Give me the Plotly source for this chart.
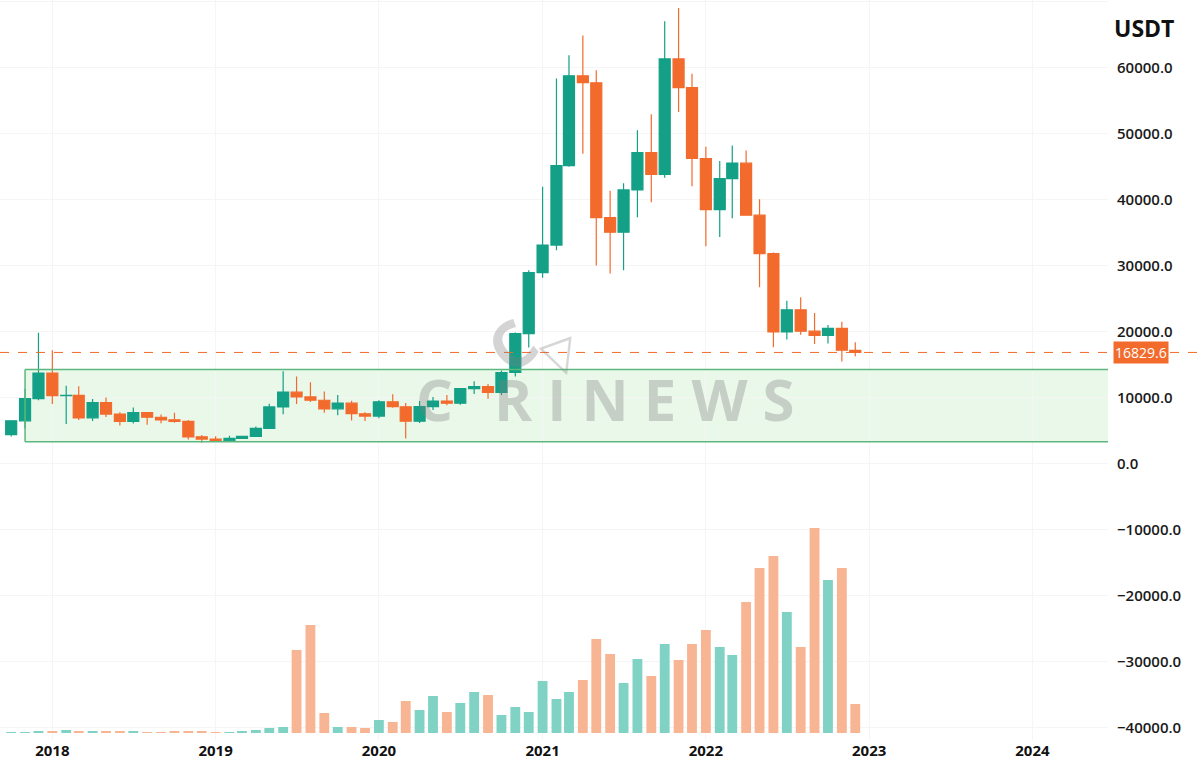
import plotly.graph_objects as go

# monthly BTC/USDT candles, Oct 2017 - Dec 2022
months = [
    "2017-10", "2017-11", "2017-12",
    "2018-01", "2018-02", "2018-03", "2018-04", "2018-05", "2018-06",
    "2018-07", "2018-08", "2018-09", "2018-10", "2018-11", "2018-12",
    "2019-01", "2019-02", "2019-03", "2019-04", "2019-05", "2019-06",
    "2019-07", "2019-08", "2019-09", "2019-10", "2019-11", "2019-12",
    "2020-01", "2020-02", "2020-03", "2020-04", "2020-05", "2020-06",
    "2020-07", "2020-08", "2020-09", "2020-10", "2020-11", "2020-12",
    "2021-01", "2021-02", "2021-03", "2021-04", "2021-05", "2021-06",
    "2021-07", "2021-08", "2021-09", "2021-10", "2021-11", "2021-12",
    "2022-01", "2022-02", "2022-03", "2022-04", "2022-05", "2022-06",
    "2022-07", "2022-08", "2022-09", "2022-10", "2022-11", "2022-12",
]
opens = [
    4378, 6463, 9838,
    13716, 10285, 10326, 6923, 9246, 7494, 6391, 7730, 7011, 6626, 6371, 4041,
    3702, 3434, 3814, 4103, 5320, 8574, 10817, 10085, 9588, 8289, 9140, 7541,
    7195, 9352, 8600, 6410, 8620, 9448, 9138, 11335, 11650, 10776, 13791, 19695,
    28923, 33092, 45135, 58741, 57694, 37254, 35045, 41461, 47100, 43824, 61300, 56950,
    46216, 38466, 43160, 45510, 37630, 31801, 19942, 23293, 20050, 19423, 20490, 17164,
]
highs = [
    6470, 11300, 19798,
    17176, 11786, 11710, 9759, 10020, 7771, 8506, 7760, 7410, 7680, 6600, 4312,
    4143, 4210, 4140, 5600, 9075, 13970, 13200, 12325, 10905, 10370, 9513, 7750,
    9578, 10500, 9188, 9468, 10067, 10380, 11444, 12468, 12050, 14100, 19863, 29300,
    41950, 58352, 61844, 64854, 59600, 41330, 42448, 50500, 52920, 67000, 69000, 59053,
    47990, 45821, 48189, 47444, 40023, 31982, 24668, 25211, 22799, 20988, 21480, 18387,
]
lows = [
    4110, 5325, 9600,
    9035, 6000, 6600, 6425, 7032, 5750, 6070, 5880, 6100, 6180, 3652, 3156,
    3350, 3373, 3785, 4030, 5300, 7460, 9010, 9320, 7710, 7300, 6515, 6435,
    6871, 8450, 3782, 6150, 8106, 8833, 8893, 10518, 9825, 10374, 13195, 17572,
    28130, 32296, 44950, 46930, 30000, 28805, 29278, 37332, 39600, 43283, 53256, 42000,
    32917, 34322, 37155, 37578, 26700, 17622, 18781, 19520, 18125, 18190, 15476, 16256,
]
closes = [
    6463, 9838, 13716,
    10285, 10326, 6923, 9246, 7494, 6391, 7730, 7011, 6626, 6371, 4041, 3702,
    3434, 3814, 4103, 5320, 8574, 10817, 10085, 9588, 8289, 9140, 7541, 7195,
    9352, 8600, 6410, 8620, 9448, 9138, 11335, 11650, 10776, 13791, 19695, 28923,
    33092, 45135, 58741, 57694, 37254, 35045, 41461, 47100, 43824, 61300, 56950, 46216,
    38466, 43160, 45510, 37630, 31801, 19942, 23293, 20050, 19423, 20490, 17164, 16829.6,
]
# volume, arbitrary units
volumes = [
    1, 1, 1.5,
    2, 3, 2, 2, 2, 1.5, 1.5, 1, 1, 1.5, 2, 1.5,
    1, 1, 1.5, 3, 5, 6, 83, 108, 20, 6, 6, 5,
    13, 11, 32, 23, 37, 21, 30, 41, 38, 18, 26, 21,
    52, 34, 41, 53, 94, 79, 50, 74, 57, 89, 73, 89,
    103, 86, 78, 131, 165, 177, 121, 86, 205, 153, 165, 29,
]
last_price = 16829.6
band_low, band_high = 3300, 14250
x_start, x_end = "2017-09-06", "2024-06-18"

UP = "#13a086"
DOWN = "#f26b2c"
UP_VOL = "#7fd2c4"
DOWN_VOL = "#f8b593"
WM = "rgba(125,125,125,0.33)"

dates = [m + "-01" for m in months]
vol_colors = [UP_VOL if c >= o else DOWN_VOL for o, c in zip(opens, closes)]

fig = go.Figure()

fig.add_trace(go.Bar(
    x=dates, y=volumes, yaxis="y2",
    marker=dict(color=vol_colors, line=dict(width=0)),
    width=22 * 86400000, hoverinfo="skip", showlegend=False,
))

fig.add_trace(go.Candlestick(
    x=dates, open=opens, high=highs, low=lows, close=closes,
    increasing=dict(line=dict(color=UP, width=1.2), fillcolor=UP),
    decreasing=dict(line=dict(color=DOWN, width=1.2), fillcolor=DOWN),
    whiskerwidth=0, showlegend=False,
))

# consolidation band
fig.add_shape(type="rect", xref="x", yref="y", x0="2017-11-01", x1=x_end,
              y0=band_low, y1=band_high, fillcolor="rgba(205,238,205,0.42)",
              line=dict(width=0), layer="below")
for yv in (band_low, band_high):
    fig.add_shape(type="line", xref="x", yref="y", x0="2017-11-01", x1=x_end,
                  y0=yv, y1=yv, line=dict(color="#5cb87c", width=1.5))
fig.add_shape(type="line", xref="x", yref="y", x0="2017-11-01", x1="2017-11-01",
              y0=band_low, y1=band_high, line=dict(color="#5cb87c", width=1.5))

# last price line
fig.add_shape(type="line", xref="paper", yref="y", x0=0, x1=1.09,
              y0=last_price, y1=last_price,
              line=dict(color=DOWN, width=1, dash="dash"))

fig.add_annotation(xref="paper", yref="y", x=1, y=last_price, xanchor="left",
                   yanchor="middle", xshift=5, text=f"{last_price:.1f}", showarrow=False,
                   font=dict(family="Open Sans", size=14, color="white"),
                   bgcolor=DOWN, borderpad=1)

fig.add_annotation(xref="paper", yref="paper", x=1, y=0.962, xanchor="left",
                   yanchor="middle", xshift=4, text="<b>USDT</b>", showarrow=False,
                   font=dict(family="Open Sans", size=23, color="#111"))

# watermark
fig.add_annotation(xref="paper", yref="y", x=0.581, y=9800, text="R I N E W S",
                   showarrow=False, yanchor="middle",
                   font=dict(family="Open Sans", size=58, weight=700, color=WM))
fig.add_annotation(xref="paper", yref="y", x=0.392, y=9800, text="C",
                   showarrow=False, yanchor="middle",
                   font=dict(family="Open Sans", size=58, weight=700, color=WM))
fig.add_annotation(xref="paper", yref="y", x=0.462, y=18000, text="C",
                   showarrow=False, textangle=-40, yanchor="middle",
                   font=dict(family="Open Sans", size=64, weight=700, color=WM))
fig.add_annotation(xref="paper", yref="y", x=0.505, y=16400, text="▽",
                   showarrow=False, textangle=-20, yanchor="middle",
                   font=dict(family="DejaVu Sans", size=46, weight=700, color=WM))

fig.update_layout(
    width=1200, height=767,
    margin=dict(l=0, r=92, t=0, b=27, autoexpand=False),
    paper_bgcolor="white", plot_bgcolor="white",
    boxgap=0.12, boxgroupgap=0,
    font=dict(family="Open Sans", color="#1a1a1a"),
    xaxis=dict(
        type="date", range=[x_start, x_end], rangeslider=dict(visible=False),
        dtick="M12", tickformat="%Y", showgrid=True, gridcolor="#f5f5f5",
        zeroline=False, showline=False, ticks="", automargin=False,
        tickfont=dict(size=15, weight=700, color="#111"),
    ),
    yaxis=dict(
        side="right", range=[-41890, 70230], dtick=10000, tickformat=".1f",
        showgrid=True, gridcolor="#f5f5f5", zeroline=False, ticks="",
        ticklabelstandoff=8, automargin=False,
        tickfont=dict(size=15, weight=600, color="#1a1a1a"),
    ),
    yaxis2=dict(overlaying="y", range=[-7, 733], visible=False),
)

# drop the page's default body margin so the figure sits at the top-left corner
fig.write_html("out.html", config={"displayModeBar": False},
               post_script="document.body.style.margin='0';")
